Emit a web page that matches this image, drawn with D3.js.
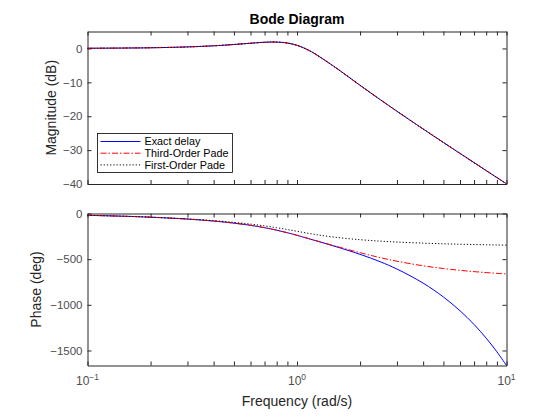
<!DOCTYPE html>
<html><head><meta charset="utf-8">
<script src="https://cdn.jsdelivr.net/npm/d3@7"></script>
<style>body{margin:0;background:#fff} svg{display:block}</style>
</head><body>
<svg id="chart" width="560" height="420"></svg>
<script>
// ---------- data ----------
const magFreq = [0.1,0.15,0.2,0.3,0.4,0.5,0.6,0.7,0.75,0.8,0.9,1,1.1,1.2,1.5,2,2.5,3,4,5,6,7,8,9,10];
const magDb   = [0.05,0.12,0.20,0.45,0.78,1.16,1.54,1.82,1.89,1.88,1.60,0.92,-0.10,-1.34,-5.30,-10.88,-15.14,-18.53,-23.77,-27.75,-30.98,-33.70,-36.04,-38.11,-39.95];

const phaseFreq  = [0.1,0.15,0.2,0.3,0.4,0.5,0.6,0.7,0.8,0.9,1,1.2,1.5,2,2.5,3,4,5,6,7,8,9,10];
const phaseExact = [-20.09,-30.21,-40.41,-61.22,-82.79,-105.44,-129.54,-155.28,-182.61,-210.87,-238.97,-290.93,-356.25,-446.98,-529.22,-608.26,-762.38,-914.23,-1065.05,-1215.31,-1365.24,-1514.95,-1664.51];
const phasePade3 = [-20.09,-30.20,-40.41,-61.22,-82.78,-105.43,-129.53,-155.25,-182.52,-210.69,-238.62,-289.84,-352.18,-429.10,-483.60,-522.58,-572.58,-602.58,-622.45,-636.54,-647.08,-655.24,-661.78];
const phasePade1 = [-20.00,-29.93,-39.77,-59.15,-78.14,-97.00,-116.06,-135.60,-155.67,-175.76,-194.86,-226.85,-258.51,-286.95,-302.60,-312.59,-324.73,-331.89,-336.62,-339.98,-342.50,-344.45,-346.01];

const seriesNames = ["Exact delay","Third-Order Pade","First-Order Pade"];
const magTicks = [0,-10,-20,-30,-40];
const phaseTicks = [0,-500,-1000,-1500];
const decadeTicks = [0.1,1,10];
const decadeExps = ["-1","0","1"];
const titleText = "Bode Diagram";
const magLabel = "Magnitude (dB)";
const phaseLabel = "Phase (deg)";
const freqLabel = "Frequency (rad/s)";

// ---------- styles ----------
const FONT = "'Liberation Sans', Arial, Helvetica, sans-serif";
const AX = "#262626";
const TXT = "#4d4d4d";
const styles = [
  {color:"#0000ff", dash:null},
  {color:"#ff0000", dash:"6,2,1.5,2"},
  {color:"#000000", dash:"1.2,2"}
];

const svg = d3.select("#chart").style("font-family", FONT);
const L = 87.5, R = 506.5;
const top1 = 31.5, bot1 = 184, top2 = 213.5, bot2 = 365.5;

const x = d3.scaleLog().domain([0.1,10]).range([L,R]);
const yMag = d3.scaleLinear().domain([-40,5]).range([bot1,top1]);
const yPh = d3.scaleLinear().domain([-1664.51,0]).range([bot2,top2]);

const minorTicks = [];
[0.1,1].forEach(d => { for (let k=1;k<=9;k++) minorTicks.push(d*k); });
minorTicks.push(10);

function drawFrame(y, yTicks, top, bot) {
  const g = svg.append("g");
  const la = g.append("g").attr("transform",`translate(${L},0)`)
    .call(d3.axisLeft(y).tickValues(yTicks).tickSizeInner(-4).tickSizeOuter(0).tickPadding(5)
      .tickFormat(d => d < 0 ? "\u2212" + Math.abs(d) : String(d)));
  const ra = g.append("g").attr("transform",`translate(${R},0)`)
    .call(d3.axisRight(y).tickValues(yTicks).tickSizeInner(-4).tickSizeOuter(0).tickFormat(""));
  const ba = g.append("g").attr("transform",`translate(0,${bot})`)
    .call(d3.axisBottom(x).tickValues(minorTicks).tickSizeInner(-4).tickSizeOuter(0).tickFormat(""));
  const ta = g.append("g").attr("transform",`translate(0,${top})`)
    .call(d3.axisTop(x).tickValues(minorTicks).tickSizeInner(-4).tickSizeOuter(0).tickFormat(""));
  [la,ra,ba,ta].forEach(a => {
    a.selectAll("path.domain").attr("stroke", AX).attr("stroke-width", 1);
    a.selectAll(".tick line").attr("stroke", AX).attr("stroke-width", 1);
    a.selectAll("text").attr("fill", TXT).style("font-size","11.5px").style("font-family", FONT);
  });
  return g;
}

drawFrame(yMag, magTicks, top1, bot1);
drawFrame(yPh, phaseTicks, top2, bot2);

// x tick labels with superscripts
const xl = svg.append("g").selectAll("text").data(decadeTicks).join("text")
  .attr("x", d => x(d)).attr("y", 385)
  .attr("text-anchor","middle").attr("fill", TXT)
  .style("font-size","12px");
xl.append("tspan").text("10");
xl.append("tspan").attr("dy",-5.5).style("font-size","8.5px").text((d,i) => decadeExps[i].replace("-","\u2212"));

// lines
const mkLine = (y, xs) => d3.line().x((d,i) => x(xs[i])).y(d => y(d)).curve(d3.curveCatmullRom.alpha(0.5));

const plotG = svg.append("g");
[0,1,2].forEach(k => {
  plotG.append("path").datum(magDb)
    .attr("d", mkLine(yMag, magFreq))
    .attr("fill","none").attr("stroke", styles[k].color).attr("stroke-width",1)
    .attr("stroke-dasharray", styles[k].dash);
});
[phaseExact, phasePade3, phasePade1].forEach((arr,k) => {
  plotG.append("path").datum(arr)
    .attr("d", mkLine(yPh, phaseFreq))
    .attr("fill","none").attr("stroke", styles[k].color).attr("stroke-width",1)
    .attr("stroke-dasharray", styles[k].dash);
});

// title and labels
svg.append("text").attr("x", (L+R)/2).attr("y", 24).attr("text-anchor","middle")
  .style("font-size","14px").style("font-weight","bold").attr("fill","#000").text(titleText);
svg.append("text").attr("transform",`translate(56,${(top1+bot1)/2}) rotate(-90)`)
  .attr("text-anchor","middle").style("font-size","14px").attr("fill", AX).text(magLabel);
svg.append("text").attr("transform",`translate(41,${(top2+bot2)/2}) rotate(-90)`)
  .attr("text-anchor","middle").style("font-size","14px").attr("fill", AX).text(phaseLabel);
svg.append("text").attr("x", (L+R)/2).attr("y", 406).attr("text-anchor","middle")
  .style("font-size","14px").attr("fill", AX).text(freqLabel);

// legend
const lg = svg.append("g").attr("transform","translate(97.5,133.5)");
lg.append("rect").attr("width",135).attr("height",39).attr("fill","#fff").attr("stroke","#000").attr("stroke-width",0.8);
seriesNames.forEach((name,k) => {
  const yy = 8 + k*11.7;
  lg.append("line").attr("x1",3).attr("x2",43).attr("y1",yy).attr("y2",yy)
    .attr("stroke", styles[k].color).attr("stroke-width",1).attr("stroke-dasharray", styles[k].dash);
  lg.append("text").attr("x",47).attr("y",yy+3.8).style("font-size","10.8px").attr("fill","#000").text(name);
});
</script>
</body></html>
